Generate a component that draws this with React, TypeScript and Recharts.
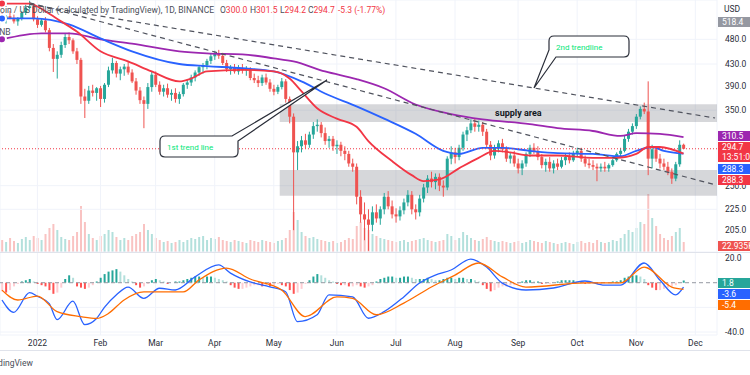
import React from "react";
import {
  ComposedChart,
  Bar,
  Line,
  XAxis,
  YAxis,
  CartesianGrid,
  ReferenceLine,
  ReferenceArea,
  Cell,
} from "recharts";

const FONT = "Roboto, 'DejaVu Sans', sans-serif";
const UP = "#26a69a";
const DOWN = "#ef5350";

// 2-day candles starting 14 Dec 2021: [open, high, low, close]
const ohlc = [
  [530, 540, 518, 525], [525, 535, 515, 532], [532, 545, 525, 528], [528, 536, 515, 520],
  [520, 530, 510, 527], [527, 545, 522, 540], [540, 560, 535, 552], [552, 570, 548, 556],
  [556, 562, 520, 525], [525, 532, 505, 512], [512, 528, 508, 522], [522, 530, 495, 500],
  [500, 505, 455, 462], [462, 470, 415, 440], [440, 455, 403, 448], [448, 475, 442, 468],
  [468, 492, 462, 485], [485, 495, 470, 478], [478, 482, 450, 455], [455, 462, 430, 438],
  [438, 442, 360, 372], [372, 385, 338, 365], [365, 390, 360, 382], [382, 392, 372, 378],
  [378, 388, 365, 386], [386, 390, 355, 368], [368, 395, 362, 392], [392, 425, 388, 418],
  [418, 442, 412, 432], [432, 436, 405, 412], [412, 425, 400, 420], [420, 430, 408, 425],
  [425, 435, 410, 414], [414, 420, 395, 398], [398, 404, 375, 382], [382, 388, 360, 366],
  [366, 372, 323, 360], [360, 395, 352, 388], [388, 415, 380, 410], [410, 416, 388, 392],
  [392, 398, 375, 380], [380, 392, 372, 386], [386, 394, 370, 375], [375, 384, 365, 378],
  [378, 386, 362, 368], [368, 380, 360, 376], [376, 395, 372, 392], [392, 402, 385, 396],
  [396, 410, 390, 405], [405, 418, 398, 414], [414, 428, 408, 424], [424, 432, 412, 428],
  [428, 440, 420, 436], [436, 450, 430, 445], [445, 456, 438, 450], [450, 458, 440, 446],
  [446, 452, 428, 432], [432, 438, 415, 420], [420, 428, 410, 424], [424, 430, 412, 416],
  [416, 428, 410, 422], [422, 430, 412, 418], [418, 426, 408, 420], [420, 424, 400, 404],
  [404, 412, 395, 400], [400, 408, 388, 395], [395, 410, 390, 405], [405, 412, 392, 396],
  [396, 402, 380, 385], [385, 392, 374, 380], [380, 392, 376, 388], [388, 404, 384, 398],
  [398, 402, 362, 368], [368, 372, 330, 340], [340, 345, 205, 290], [290, 305, 268, 298],
  [298, 312, 290, 306], [306, 315, 295, 300], [300, 318, 296, 314], [314, 332, 308, 326],
  [326, 336, 318, 328], [328, 332, 310, 316], [316, 324, 300, 305], [305, 312, 296, 308],
  [308, 312, 292, 298], [298, 306, 288, 300], [300, 304, 285, 292], [292, 298, 280, 288],
  [288, 292, 272, 276], [276, 282, 266, 272], [272, 276, 230, 238], [238, 245, 212, 220],
  [220, 232, 196, 215], [215, 225, 187, 210], [210, 228, 204, 222], [222, 230, 212, 216],
  [216, 228, 210, 225], [225, 242, 220, 238], [238, 244, 225, 228], [228, 234, 216, 220],
  [220, 226, 212, 218], [218, 228, 214, 224], [224, 236, 220, 232], [232, 245, 228, 240],
  [240, 244, 220, 225], [225, 230, 215, 222], [222, 240, 218, 236], [236, 252, 232, 248],
  [248, 262, 242, 258], [258, 266, 248, 254], [254, 264, 246, 260], [260, 264, 244, 250],
  [250, 256, 238, 248], [248, 285, 245, 282], [282, 298, 275, 290], [290, 296, 276, 284],
  [284, 300, 280, 296], [296, 318, 292, 314], [314, 325, 305, 320], [320, 336, 316, 330],
  [330, 338, 318, 325], [325, 334, 318, 328], [328, 332, 312, 318], [318, 322, 296, 300],
  [300, 305, 280, 286], [286, 300, 282, 296], [296, 306, 290, 302], [302, 308, 290, 294],
  [294, 298, 278, 282], [282, 290, 276, 286], [286, 292, 272, 276], [276, 282, 264, 270],
  [270, 280, 262, 276], [276, 290, 272, 288], [288, 300, 284, 296], [296, 302, 288, 292],
  [292, 298, 280, 284], [284, 288, 270, 274], [274, 282, 266, 278], [278, 284, 266, 270],
  [270, 280, 264, 276], [276, 282, 268, 272], [272, 284, 270, 280], [280, 288, 274, 284],
  [284, 290, 276, 280], [280, 292, 278, 288], [288, 296, 284, 292], [292, 296, 278, 282],
  [282, 286, 272, 276], [276, 282, 270, 274], [274, 280, 268, 272], [272, 276, 255, 270],
  [270, 276, 266, 272], [272, 278, 266, 270], [270, 276, 266, 274], [274, 282, 272, 280],
  [280, 290, 278, 288], [288, 296, 284, 292], [292, 312, 290, 308], [308, 322, 304, 318],
  [318, 330, 314, 326], [326, 344, 322, 340], [340, 356, 336, 352], [352, 362, 344, 348],
  [348, 398, 262, 282], [282, 300, 270, 294], [294, 298, 278, 282], [282, 288, 270, 276],
  [276, 282, 268, 272], [272, 278, 262, 266], [266, 270, 252, 258], [258, 278, 255, 275],
  [275, 306, 272, 300], [300, 301.5, 294.2, 294.7],
];

const volume = [
  120, 100, 140, 110, 90, 130, 150, 120, 160,
  140, 120, 180, 240, 280, 220, 150, 130, 120, 160, 200,
  460, 300, 180,
  140, 120, 160, 180, 220, 200, 150, 120, 140, 120, 160, 180, 200, 280,
  220, 180, 140, 120, 100, 110, 90, 100, 120,
  100, 120, 140, 130, 150, 160, 120, 140, 130, 150, 120, 110, 100, 120, 110,
  100, 90, 120, 110, 100, 120, 110, 100, 90, 110, 120, 140, 220,
  400,
  320, 200, 160, 140, 150, 130, 120, 110, 100, 110, 90, 100, 120, 140, 130,
  260, 300, 240, 220,
  180, 160, 140, 130, 120, 110, 100, 110, 120, 100, 110, 120, 130, 140, 120, 110, 100, 110, 120,
  180, 160, 120, 140, 200, 170, 140, 120, 110, 130, 150,
  120, 110, 100, 110, 100, 90, 100, 110, 90, 100, 120, 110, 100, 90, 110, 100, 90,
  80, 90, 100, 90, 80, 100, 110, 90, 100, 90, 120, 100, 90, 100, 120, 110, 140,
  180, 220, 200, 240, 300, 280,
  580,
  340, 260, 180, 140, 120, 160, 200, 240, 100,
];

const macdHist = [
  -7, -8, -6, -3, -1, 1, 2, 3, 1, -1, -2, -3, -6, -9, -8, -4, 3, 6, 4,
  -3, -4, -5, -4, -2, 1, 4, 7, 9, 10, 11, 9, 6, 3, 1, -2, -4, -3, -1,
  2, 3, 2, 1, -1, 0, 1, 1, 2, 3, 4, 5, 5, 4, 5, 5, 4, 3, 2, 1,
  -2, -4, -5, -5, -4, -3, -2, -2, -3, -2, -3, -2, -1, -2, -3,
  -6, -9, -8, -5, -1, 2, 5, 7, 6, 4, 2, 1, -1, -2, -2, -3,
  -3, -2, -3, -4, -3, -2, 1, 3, 4, 5, 5, 4, 4, 5, 5, 4, 3,
  3, 3, 4, 3, 2, 2, 3, 4, 4, 3, 4, 4, 3, 3, 2, 1,
  -2, -5, -7, -6, -4, -3, -3, -2, -2, -1, 1, 2, 2, 1, 1, -1, -1, -1, 0,
  1, 2, 2, 2, 2, 1, 1, -1, -1, 0, -1, -1, 0, 0, 1, 1,
  2, 4, 5, 6, 6, 5, 3, -2, -4, -6, -6, -5, -4, -3, -2, 0, 1.8,
];

// moving averages, [bin, value]
const maRed = [
  [0, 563], [7, 563], [11, 544], [15, 520], [19, 497], [25, 455], [32, 435], [38, 416],
  [45, 398], [48, 403], [52, 416], [61, 419], [69, 416], [73, 403], [76, 381], [80, 353],
  [85, 337], [90, 325], [93, 305], [99, 279], [104, 262], [107, 255], [111, 257], [116, 270],
  [121, 283], [125, 292], [129, 290], [134, 286], [141, 286], [150, 283], [156, 283],
  [161, 288], [164, 297], [167, 297], [173, 288.3],
];
const maBlue = [
  [0, 527], [8, 527], [17, 513], [25, 482], [33, 455], [45, 430], [52, 426], [61, 422],
  [69, 416], [76, 398], [82, 377], [90, 356], [97, 337], [105, 315], [112, 292], [116, 288],
  [122, 296], [127, 296], [134, 292], [141, 289], [150, 288], [157, 285], [161, 292],
  [165, 297], [168, 292], [173, 288.3],
];
const maPurple = [
  [0, 480], [10, 493], [17, 493], [25, 480], [33, 471], [45, 455], [52, 451], [61, 449],
  [69, 441], [74, 435], [82, 416], [90, 402], [97, 386], [105, 359], [114, 344], [122, 336],
  [134, 329], [141, 323], [150, 319], [157, 312], [161, 316], [167, 315], [173, 310.5],
];

const macdLine = [
  [0, -14], [3, -24], [7, -8], [9, -11], [12, -17], [14, -30], [18, -15], [21, -34], [24, -29],
  [26, -20], [29, -10], [32, -3.5], [36, -12.7], [40, -4.5], [44, -5.9], [49, 4.7], [55, 14.4],
  [58, 7.8], [63, 0.6], [68, -3.3], [72, -7.3], [75, -31.6], [80, -26], [83, -9.9], [89, -11.5],
  [93, -28.8], [97, -23.5], [102, -11.5], [106, -0.3], [110, 6.2], [114, 10.3], [119, 19.2],
  [123, 12.7], [127, -0.3], [133, -5.9], [140, -4.3], [148, 1.4], [153, -1.9], [157, -1.9],
  [163, 16], [167, 2.2], [171, -9.9], [173, -3.6],
];
const signalLine = [
  [0, -6], [4, -14], [9, -10.8], [14, -23.5], [20, -27.5], [24, -29], [27, -25], [31, -14],
  [36, -7.5], [46, -7.5], [50, 2.2], [57, 11.9], [63, 3], [71, -5.9], [77, -27.5], [85, -11.5],
  [89, -12.7], [95, -26], [102, -16.5], [109, -3.5], [115, 6.2], [121, 16], [127, 4.7],
  [133, -3.5], [148, -0.2], [157, -0.2], [163, 12.7], [170, -3.5], [173, -5.4],
];

const monthLabels = ["2022", "Feb", "Mar", "Apr", "May", "Jun", "Jul", "Aug", "Sep", "Oct", "Nov", "Dec"];
const priceTicks = [205, 225, 250, 350, 390, 430, 480];
const macdTicks = [20, -20, -40];

const START = Date.UTC(2021, 11, 14);
const BINS = 182;

const asMap = (pts: number[][]) => new Map(pts.map(([b, v]) => [b, v]));
const redMap = asMap(maRed);
const blueMap = asMap(maBlue);
const purpleMap = asMap(maPurple);
const macdMap = asMap(macdLine);
const sigMap = asMap(signalLine);

const tickBins: number[] = [];
const tickText: Record<number, string> = {};
const rows: any[] = [];
let prevMonth = -1;
for (let i = 0; i < BINS; i++) {
  const mo = new Date(START + i * 2 * 86400000).getUTCMonth();
  if (prevMonth >= 0 && mo !== prevMonth) {
    tickText[i] = monthLabels[tickBins.length];
    tickBins.push(i);
  }
  prevMonth = mo;
  const k = ohlc[i];
  rows.push({
    i,
    o: k ? k[0] : null,
    h: k ? k[1] : null,
    l: k ? k[2] : null,
    c: k ? k[3] : null,
    range: k ? [k[2], k[1]] : null,
    vol: volume[i] ?? null,
    hist: macdHist[i] ?? null,
    maRed: redMap.get(i) ?? null,
    maBlue: blueMap.get(i) ?? null,
    maPurple: purpleMap.get(i) ?? null,
    macd: macdMap.get(i) ?? null,
    signal: sigMap.get(i) ?? null,
  });
}

const last = ohlc[ohlc.length - 1];
const prevClose = ohlc[ohlc.length - 2][3];
const chg = last[3] - prevClose;
const chgPct = (chg / prevClose) * 100;

const Candle = (props: any) => {
  const { x, y, width, height, payload } = props;
  if (!payload || payload.o == null || !isFinite(y)) return null;
  const { o, h, l, c } = payload;
  const color = c >= o ? UP : DOWN;
  const k = height / (Math.log(h) - Math.log(l));
  const yO = y + (Math.log(h) - Math.log(o)) * k;
  const yC = y + (Math.log(h) - Math.log(c)) * k;
  const top = Math.min(yO, yC);
  const bh = Math.max(1, Math.abs(yO - yC));
  const cx = x + width / 2;
  return (
    <g>
      <line x1={cx} x2={cx} y1={y} y2={y + height} stroke={color} strokeWidth={1} />
      <rect x={x} y={top} width={width} height={bh} fill={color} />
    </g>
  );
};

const histColor = (i: number) => {
  const v = macdHist[i];
  const p = i > 0 ? macdHist[i - 1] : v;
  if (v >= 0) return v >= p ? "#26a69a" : "#b2dfdb";
  return v < p ? "#ff5252" : "#ffcdd2";
};

const Tag = ({ y, h = 10, color, lines }: { y: number; h?: number; color: string; lines: string[] }) => (
  <g>
    <rect x={718} y={y} width={32} height={h} fill={color} />
    {lines.map((t, n) => (
      <text key={n} x={722} y={y + 8 + n * 10} fill="#fff" fontSize={8.5}>
        {t}
      </text>
    ))}
  </g>
);

const axisTick = { fontSize: 8.5, fill: "#2a2e39", fontFamily: FONT };
const GREY = "#4a4e59";
const RED = "#f23645";
const HDR = 8.5;

export default function App() {
  return (
    <div
      style={{
        position: "absolute",
        left: 0,
        top: 0,
        width: 750,
        height: 375,
        background: "#fff",
        overflow: "hidden",
        fontFamily: FONT,
      }}
    >
      {/* volume overlay, bottom of price pane */}
      <div style={{ position: "absolute", left: 0, top: 0 }}>
        <ComposedChart width={750} height={252} data={rows} margin={{ top: 0, right: 33, left: 0, bottom: 0 }} barCategoryGap="30%">
          <XAxis dataKey="i" hide />
          <YAxis yAxisId="vol" hide domain={[0, 2520]} />
          <Bar yAxisId="vol" dataKey="vol" isAnimationActive={false}>
            {rows.map((r, n) => (
              <Cell key={n} fill={r.c >= r.o ? "rgba(38,166,154,0.35)" : "rgba(239,83,80,0.35)"} />
            ))}
          </Bar>
        </ComposedChart>
      </div>

      {/* price pane */}
      <div style={{ position: "absolute", left: 0, top: 0 }}>
        <ComposedChart width={750} height={252} data={rows} margin={{ top: 0, right: 0, left: 0, bottom: 0 }} barCategoryGap="15%">
          <CartesianGrid stroke="#f0f3fa" ticks={tickBins} />
          <XAxis dataKey="i" hide ticks={tickBins} />
          <YAxis
            orientation="right"
            width={33}
            scale="log"
            domain={[186, 572]}
            allowDataOverflow
            ticks={priceTicks}
            tickFormatter={(v: number) => v.toFixed(1)}
            tick={axisTick}
            axisLine={false}
            tickLine={false}
          />
          <ReferenceArea x1={71} x2={181} y1={332} y2={359.5} fill="#787b86" fillOpacity={0.3} stroke="none"
            label={{ value: "supply area", position: "center", fill: "#131722", fontSize: 9, fontWeight: 700, dx: 20 }} />
          <ReferenceArea x1={71} x2={181} y1={239} y2={268} fill="#787b86" fillOpacity={0.3} stroke="none" />
          <Line dataKey="maPurple" stroke="#9c27b0" strokeWidth={1.8} dot={false} connectNulls type="monotone" isAnimationActive={false} />
          <Line dataKey="maBlue" stroke="#2962ff" strokeWidth={1.8} dot={false} connectNulls type="monotone" isAnimationActive={false} />
          <Line dataKey="maRed" stroke="#f23645" strokeWidth={1.8} dot={false} connectNulls type="monotone" isAnimationActive={false} />
          <Bar dataKey="range" shape={<Candle />} isAnimationActive={false} />
          <ReferenceLine y={last[3]} stroke="#f23645" strokeDasharray="1 2" />
          <ReferenceLine segment={[{ x: 7, y: 561 }, { x: 181, y: 338 }]} stroke="#50535e" strokeDasharray="5 4" strokeWidth={1.2} />
          <ReferenceLine segment={[{ x: 7, y: 565 }, { x: 181, y: 251 }]} stroke="#50535e" strokeDasharray="5 4" strokeWidth={1.2} />
        </ComposedChart>
      </div>

      {/* MACD pane + time axis */}
      <div style={{ position: "absolute", left: 0, top: 252 }}>
        <ComposedChart width={750} height={98} data={rows} margin={{ top: 0, right: 0, left: 0, bottom: 0 }} barCategoryGap="30%">
          <CartesianGrid stroke="#f0f3fa" ticks={tickBins} />
          <XAxis
            dataKey="i"
            ticks={tickBins}
            interval={0}
            tickFormatter={(v: number) => tickText[v] ?? ""}
            tick={axisTick}
            axisLine={false}
            tickLine={false}
            tickSize={0}
            tickMargin={5}
            height={15}
          />
          <YAxis
            orientation="right"
            width={33}
            domain={[-42.4, 24.9]}
            allowDataOverflow
            ticks={macdTicks}
            tickFormatter={(v: number) => v.toFixed(1)}
            tick={axisTick}
            axisLine={false}
            tickLine={false}
          />
          <ReferenceLine y={0} stroke="#9598a1" strokeDasharray="4 3" />
          <Bar dataKey="hist" isAnimationActive={false}>
            {rows.map((r, n) => (
              <Cell key={n} fill={n < macdHist.length ? histColor(n) : "none"} />
            ))}
          </Bar>
          <Line dataKey="macd" stroke="#2962ff" strokeWidth={1.3} dot={false} connectNulls type="monotone" isAnimationActive={false} />
          <Line dataKey="signal" stroke="#ff6d00" strokeWidth={1.3} dot={false} connectNulls type="monotone" isAnimationActive={false} />
        </ComposedChart>
      </div>

      {/* annotations, header and price tags */}
      <svg width={750} height={375} style={{ position: "absolute", left: 0, top: 0, pointerEvents: "none" }} fontFamily={FONT}>
        <line x1={0} x2={750} y1={252.5} y2={252.5} stroke="#e0e3eb" />
        <line x1={0} x2={750} y1={350.5} y2={350.5} stroke="#e0e3eb" />
        <text x={214} y={13} fontSize={HDR} fill={GREY} textAnchor="end">
          Binance Coin / US Dollar (calculated by TradingView), 1D, BINANCE
        </text>
        <text x={220} y={13} fontSize={HDR} fill={GREY}>
          O<tspan fill={RED}>{last[0].toFixed(1)}</tspan>
        </text>
        <text x={250} y={13} fontSize={HDR} fill={GREY}>
          H<tspan fill={RED}>{last[1].toFixed(1)}</tspan>
        </text>
        <text x={280} y={13} fontSize={HDR} fill={GREY}>
          L<tspan fill={RED}>{last[2].toFixed(1)}</tspan>
        </text>
        <text x={308} y={13} fontSize={HDR} fill={GREY}>
          C<tspan fill={RED}>{last[3].toFixed(1)}</tspan>
        </text>
        <text x={338} y={13} fontSize={HDR} fill={RED}>
          {`${chg.toFixed(1)} (${chgPct.toFixed(2)}%)`}
        </text>
        <text x={-6} y={35} fontSize={HDR} fill={GREY}>BNB</text>

        <path
          d="M165 136 L232 136 L327 80 L238 141 L238 152 Q238 157 233 157 L165 157 Q160 157 160 152 L160 141 Q160 136 165 136 Z"
          fill="#fff"
          stroke="#2a2e39"
          strokeWidth={1.2}
        />
        <text x={167} y={150} fontSize={8} fill="#00e676">1st trend line</text>
        <path
          d="M554 36 L624 36 Q629 36 629 41 L629 52 Q629 57 624 57 L556 57 L534 88 L549 50 L549 41 Q549 36 554 36 Z"
          fill="#fff"
          stroke="#2a2e39"
          strokeWidth={1.2}
        />
        <text x={556} y={50} fontSize={8} fill="#00e676">2nd trendline</text>

        <text x={724} y={12} fontSize={HDR} fill="#2a2e39">USD</text>
        <Tag y={17} color="#9598a1" lines={["518.4"]} />
        <Tag y={131} color="#9c27b0" lines={[maPurple[maPurple.length - 1][1].toFixed(1)]} />
        <Tag y={142} h={20} color="#f23645" lines={[last[3].toFixed(1), "13:51:01"]} />
        <Tag y={164} color="#2962ff" lines={[maBlue[maBlue.length - 1][1].toFixed(1)]} />
        <Tag y={175} color="#f23645" lines={[maRed[maRed.length - 1][1].toFixed(1)]} />
        <Tag y={241} color="#ef5350" lines={["22.935K"]} />
        <Tag y={278} color="#26a69a" lines={[macdHist[macdHist.length - 1].toFixed(1)]} />
        <Tag y={289} color="#2962ff" lines={[macdLine[macdLine.length - 1][1].toFixed(1)]} />
        <Tag y={300} color="#ff6d00" lines={[signalLine[signalLine.length - 1][1].toFixed(1)]} />

        <text x={-14} y={366} fontSize={HDR} fill={GREY}>TradingView</text>
      </svg>
    </div>
  );
}
